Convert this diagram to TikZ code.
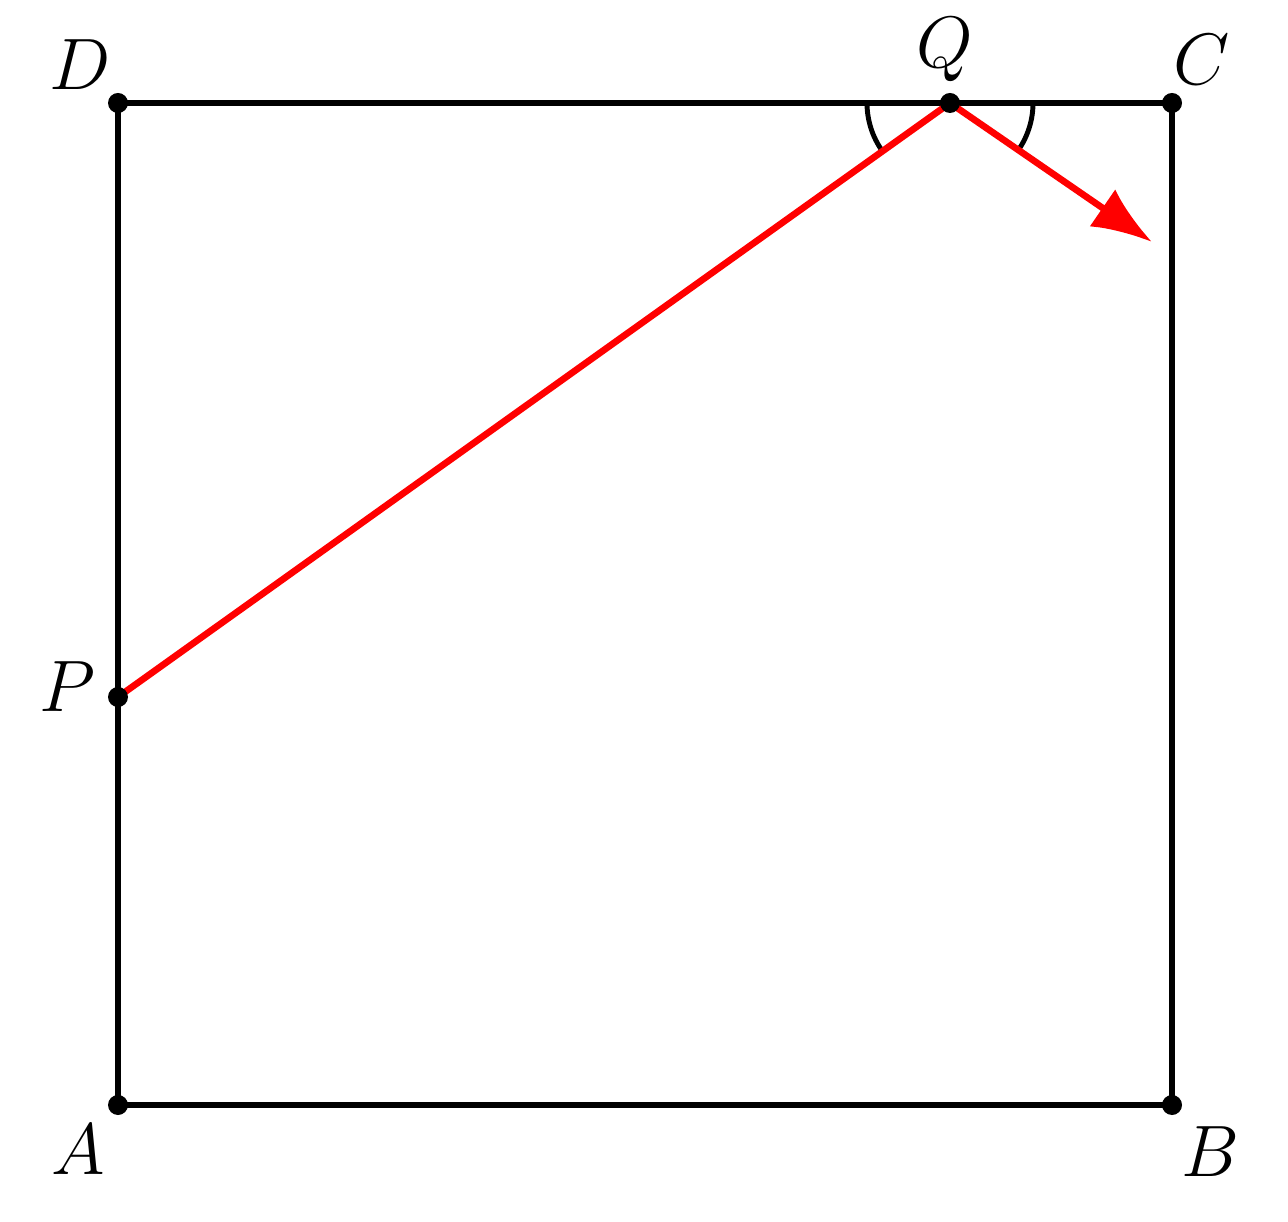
\documentclass[tikz,border=0pt]{standalone}
\usetikzlibrary{arrows.meta}
\begin{document}
\begin{tikzpicture}[font=\huge]
    \useasboundingbox (0,0) rectangle (12.88,12.21);
    %% Points
    \coordinate (A) at (1.18,1.16);
    \coordinate (B) at (11.72,1.16);
    \coordinate (C) at (11.72,11.18);
    \coordinate (D) at (1.18,11.18);
    \coordinate (P) at (1.18,5.24);
    \coordinate (Q) at (9.50,11.18);
    \coordinate (E) at (11.52,9.79);
    %% Square
    \draw[line width=1.5pt] (A) -- (B) -- (C) -- (D) -- cycle;
    %% Angles
    \draw[line width=1.4pt] (Q) ++(180:0.83) arc[start angle=180,end angle=215.5,radius=0.83];
    \draw[line width=1.4pt] (Q) ++(0:0.83) arc[start angle=0,end angle=-35.5,radius=0.83];
    %% Ray
    \draw[red,line width=1.9pt] (P) -- (Q);
    \draw[red,line width=1.9pt,-{Latex[length=6mm,width=4.5mm]}] (Q) -- (E);
    %% Dots
    \foreach \p in {A,B,C,D,P,Q}
        \node[fill,circle,inner sep=0pt,minimum size=0.2cm] (dot\p) at (\p) {};
    %% Labels
    \node (lA) at (0.78,0.71) {$A$};
    \node (lB) at (12.10,0.69) {$B$};
    \node (lC) at (12.02,11.61) {$C$};
    \node (lD) at (0.80,11.56) {$D$};
    \node (lP) at (0.67,5.34) {$P$};
    \node (lQ) at (9.45,11.71) {$Q$};
\end{tikzpicture}
\end{document}
